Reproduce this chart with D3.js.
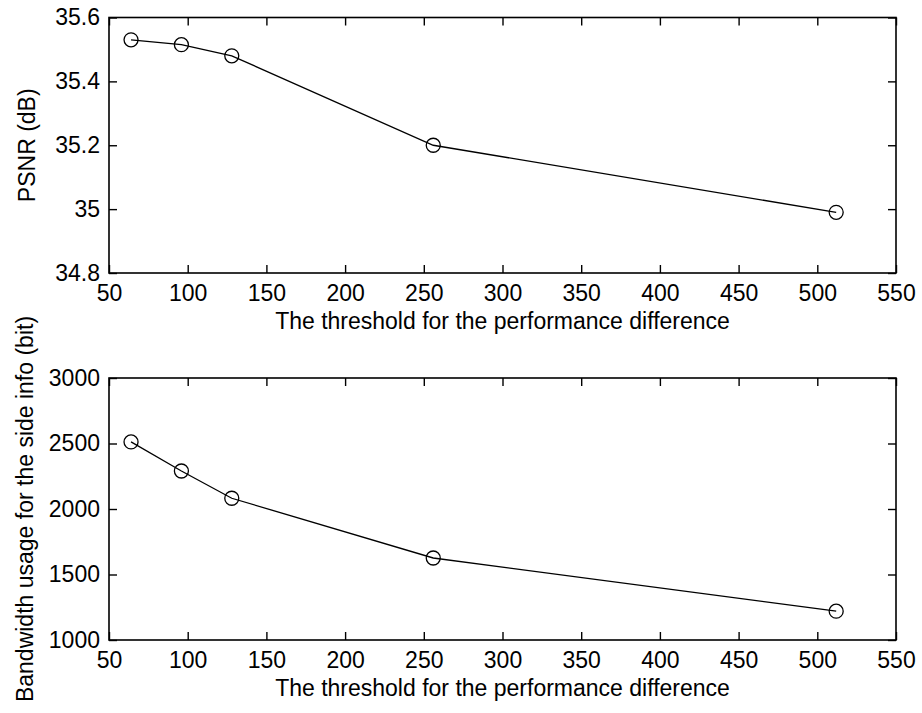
<!DOCTYPE html>
<html>
<head>
<meta charset="utf-8">
<script src="https://cdn.jsdelivr.net/npm/d3@7"></script>
<style>
  body { margin: 0; background: #fff; }
  svg text { font-family: "Liberation Sans", Arial, sans-serif; fill: #000; }
</style>
</head>
<body>
<svg id="chart"></svg>
<script>
// threshold values (x) shared by both panels
var thresholds = [64, 96, 128, 256, 512];
var psnr = [35.53, 35.515, 35.48, 35.20, 34.99];
var bandwidth = [2512, 2290, 2082, 1626, 1220];

var xTicks = [50, 100, 150, 200, 250, 300, 350, 400, 450, 500, 550];
var psnrTicks = [34.8, 35, 35.2, 35.4, 35.6];
var bwTicks = [1000, 1500, 2000, 2500, 3000];

var xLabel = "The threshold for the performance difference";
var psnrLabel = "PSNR (dB)";
var bwLabel = "Bandwidth usage for the side info (bit)";

var width = 922, height = 713;
var left = 109, right = 896;
var fontSize = 23;

var svg = d3.select("#chart")
	.attr("width", width)
	.attr("height", height);

function panel(top, bottom, values, yTicks, yLabel, yLabelX){
	var xScale = d3.scaleLinear().domain([50, 550]).range([left, right]);
	var yScale = d3.scaleLinear().domain([yTicks[0], yTicks[yTicks.length - 1]]).range([bottom, top]);

	var g = svg.append("g");

	// inward ticks on all four sides, labels only bottom / left
	var xAxis = d3.axisBottom(xScale).tickValues(xTicks).tickSizeInner(-8).tickSizeOuter(0).tickPadding(12)
		.tickFormat(function(d){ return String(d); });
	var yAxis = d3.axisLeft(yScale).tickValues(yTicks).tickSizeInner(-8).tickSizeOuter(0).tickPadding(9)
		.tickFormat(function(d){ return String(d); });

	var gx = g.append("g").attr("transform", "translate(0," + bottom + ")").call(xAxis);
	var gy = g.append("g").attr("transform", "translate(" + left + ",0)").call(yAxis);
	var gt = g.append("g").attr("transform", "translate(0," + top + ")")
		.call(d3.axisTop(xScale).tickValues(xTicks).tickSizeInner(-8).tickSizeOuter(0).tickFormat(""));
	var gr = g.append("g").attr("transform", "translate(" + right + ",0)")
		.call(d3.axisRight(yScale).tickValues(yTicks).tickSizeInner(-8).tickSizeOuter(0).tickFormat(""));

	[gx, gy, gt, gr].forEach(function(a){
		a.select(".domain").remove();
		a.selectAll(".tick line").attr("stroke", "#000").attr("stroke-width", 1.4);
		a.selectAll(".tick text").style("font-size", fontSize + "px").attr("fill", "#000");
	});

	g.append("rect")
		.attr("x", left).attr("y", top)
		.attr("width", right - left).attr("height", bottom - top)
		.attr("fill", "none").attr("stroke", "#000").attr("stroke-width", 1.6);

	var pts = thresholds.map(function(t, i){ return {x: t, y: values[i]}; });

	var line = d3.line()
		.x(function(d){ return xScale(d.x); })
		.y(function(d){ return yScale(d.y); });

	g.append("path")
		.datum(pts)
		.attr("d", line)
		.attr("fill", "none")
		.attr("stroke", "#000")
		.attr("stroke-width", 1.3);

	g.selectAll("circle")
		.data(pts)
		.enter().append("circle")
		.attr("cx", function(d){ return xScale(d.x); })
		.attr("cy", function(d){ return yScale(d.y); })
		.attr("r", 7)
		.attr("fill", "none")
		.attr("stroke", "#000")
		.attr("stroke-width", 1.3);

	g.append("text")
		.attr("x", (left + right) / 2)
		.attr("y", bottom + 56)
		.attr("text-anchor", "middle")
		.style("font-size", fontSize + "px")
		.text(xLabel);

	g.append("text")
		.attr("transform", "translate(" + yLabelX + "," + (top + bottom) / 2 + ") rotate(-90)")
		.attr("text-anchor", "middle")
		.style("font-size", fontSize + "px")
		.text(yLabel);
}

panel(17.5, 273, psnr, psnrTicks, psnrLabel, 35);
panel(378, 640, bandwidth, bwTicks, bwLabel, 33);
</script>
</body>
</html>
